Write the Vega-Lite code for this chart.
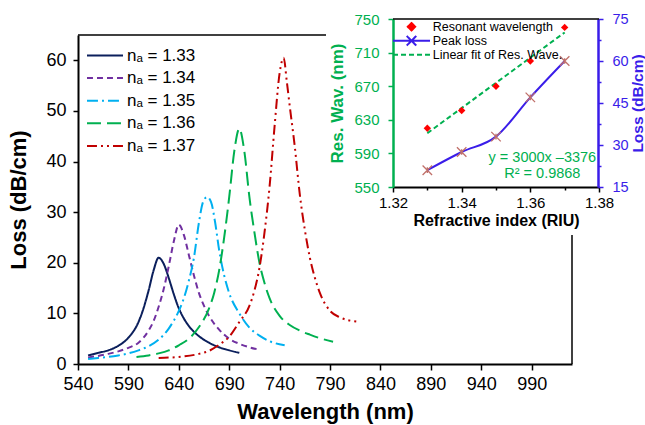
{
"$schema": "https://vega.github.io/schema/vega-lite/v6.json",
"width": 494, "height": 329,
"autosize": {"type": "none"},
"padding": {"left": 78, "top": 35, "right": 73, "bottom": 61},
"config": {
  "font": "Liberation Sans",
  "view": {"stroke": null},
  "axis": {"grid": false, "labelFont": "Liberation Sans", "titleFont": "Liberation Sans", "domainColor": "#000000", "tickColor": "#000000", "labelColor": "#000000", "titleColor": "#000000", "labelFlush": false, "labelOverlap": false, "labelBound": false},
  "legend": {"labelFont": "Liberation Sans", "labelColor": "#000000"}
},
"datasets": {
  "curves": [
    {"na": "nₐ = 1.33", "w": 550, "l": 1.7}, {"na": "nₐ = 1.33", "w": 560, "l": 2.2}, {"na": "nₐ = 1.33", "w": 570, "l": 2.7}, {"na": "nₐ = 1.33", "w": 580, "l": 3.6}, {"na": "nₐ = 1.33", "w": 590, "l": 5.2}, {"na": "nₐ = 1.33", "w": 600, "l": 8.3}, {"na": "nₐ = 1.33", "w": 605, "l": 11}, {"na": "nₐ = 1.33", "w": 610, "l": 14.5}, {"na": "nₐ = 1.33", "w": 615, "l": 18.5}, {"na": "nₐ = 1.33", "w": 620, "l": 21}, {"na": "nₐ = 1.33", "w": 625, "l": 19.8}, {"na": "nₐ = 1.33", "w": 630, "l": 17}, {"na": "nₐ = 1.33", "w": 635, "l": 13.8}, {"na": "nₐ = 1.33", "w": 640, "l": 11}, {"na": "nₐ = 1.33", "w": 645, "l": 9}, {"na": "nₐ = 1.33", "w": 650, "l": 7.5}, {"na": "nₐ = 1.33", "w": 660, "l": 5.5}, {"na": "nₐ = 1.33", "w": 670, "l": 4.2}, {"na": "nₐ = 1.33", "w": 680, "l": 3.3}, {"na": "nₐ = 1.33", "w": 690, "l": 2.7}, {"na": "nₐ = 1.33", "w": 700, "l": 2.2},
    {"na": "nₐ = 1.34", "w": 550, "l": 1.3}, {"na": "nₐ = 1.34", "w": 560, "l": 1.6}, {"na": "nₐ = 1.34", "w": 570, "l": 2.0}, {"na": "nₐ = 1.34", "w": 580, "l": 2.5}, {"na": "nₐ = 1.34", "w": 590, "l": 3.2}, {"na": "nₐ = 1.34", "w": 600, "l": 4.2}, {"na": "nₐ = 1.34", "w": 610, "l": 6.6}, {"na": "nₐ = 1.34", "w": 615, "l": 8.5}, {"na": "nₐ = 1.34", "w": 620, "l": 11.3}, {"na": "nₐ = 1.34", "w": 625, "l": 14.8}, {"na": "nₐ = 1.34", "w": 630, "l": 19.3}, {"na": "nₐ = 1.34", "w": 635, "l": 24.2}, {"na": "nₐ = 1.34", "w": 640, "l": 27.5}, {"na": "nₐ = 1.34", "w": 645, "l": 25.5}, {"na": "nₐ = 1.34", "w": 650, "l": 21.5}, {"na": "nₐ = 1.34", "w": 655, "l": 17.5}, {"na": "nₐ = 1.34", "w": 660, "l": 14}, {"na": "nₐ = 1.34", "w": 665, "l": 11.5}, {"na": "nₐ = 1.34", "w": 670, "l": 9.5}, {"na": "nₐ = 1.34", "w": 680, "l": 6.8}, {"na": "nₐ = 1.34", "w": 690, "l": 5.0}, {"na": "nₐ = 1.34", "w": 700, "l": 4.0}, {"na": "nₐ = 1.34", "w": 710, "l": 3.3}, {"na": "nₐ = 1.34", "w": 718, "l": 2.9},
    {"na": "nₐ = 1.35", "w": 550, "l": 1.0}, {"na": "nₐ = 1.35", "w": 560, "l": 1.2}, {"na": "nₐ = 1.35", "w": 570, "l": 1.4}, {"na": "nₐ = 1.35", "w": 580, "l": 1.7}, {"na": "nₐ = 1.35", "w": 590, "l": 2.1}, {"na": "nₐ = 1.35", "w": 600, "l": 2.7}, {"na": "nₐ = 1.35", "w": 610, "l": 3.5}, {"na": "nₐ = 1.35", "w": 620, "l": 4.8}, {"na": "nₐ = 1.35", "w": 630, "l": 7}, {"na": "nₐ = 1.35", "w": 640, "l": 10.5}, {"na": "nₐ = 1.35", "w": 645, "l": 13}, {"na": "nₐ = 1.35", "w": 650, "l": 16.5}, {"na": "nₐ = 1.35", "w": 655, "l": 21}, {"na": "nₐ = 1.35", "w": 660, "l": 28}, {"na": "nₐ = 1.35", "w": 664, "l": 32}, {"na": "nₐ = 1.35", "w": 668, "l": 33}, {"na": "nₐ = 1.35", "w": 672, "l": 32}, {"na": "nₐ = 1.35", "w": 676, "l": 28}, {"na": "nₐ = 1.35", "w": 680, "l": 22.5}, {"na": "nₐ = 1.35", "w": 685, "l": 17.5}, {"na": "nₐ = 1.35", "w": 690, "l": 14}, {"na": "nₐ = 1.35", "w": 700, "l": 10}, {"na": "nₐ = 1.35", "w": 710, "l": 7.2}, {"na": "nₐ = 1.35", "w": 720, "l": 5.6}, {"na": "nₐ = 1.35", "w": 730, "l": 4.5}, {"na": "nₐ = 1.35", "w": 745, "l": 3.7},
    {"na": "nₐ = 1.36", "w": 598, "l": 1.4}, {"na": "nₐ = 1.36", "w": 610, "l": 1.7}, {"na": "nₐ = 1.36", "w": 620, "l": 2.1}, {"na": "nₐ = 1.36", "w": 630, "l": 2.7}, {"na": "nₐ = 1.36", "w": 640, "l": 3.7}, {"na": "nₐ = 1.36", "w": 650, "l": 5.0}, {"na": "nₐ = 1.36", "w": 660, "l": 7.3}, {"na": "nₐ = 1.36", "w": 670, "l": 11}, {"na": "nₐ = 1.36", "w": 675, "l": 14}, {"na": "nₐ = 1.36", "w": 680, "l": 18.5}, {"na": "nₐ = 1.36", "w": 685, "l": 25}, {"na": "nₐ = 1.36", "w": 690, "l": 33}, {"na": "nₐ = 1.36", "w": 695, "l": 42}, {"na": "nₐ = 1.36", "w": 700, "l": 46.5}, {"na": "nₐ = 1.36", "w": 705, "l": 42}, {"na": "nₐ = 1.36", "w": 710, "l": 33}, {"na": "nₐ = 1.36", "w": 715, "l": 26}, {"na": "nₐ = 1.36", "w": 720, "l": 20}, {"na": "nₐ = 1.36", "w": 725, "l": 16}, {"na": "nₐ = 1.36", "w": 730, "l": 13}, {"na": "nₐ = 1.36", "w": 740, "l": 9.5}, {"na": "nₐ = 1.36", "w": 750, "l": 7.7}, {"na": "nₐ = 1.36", "w": 760, "l": 6.6}, {"na": "nₐ = 1.36", "w": 770, "l": 5.8}, {"na": "nₐ = 1.36", "w": 780, "l": 5.1}, {"na": "nₐ = 1.36", "w": 793, "l": 4.4},
    {"na": "nₐ = 1.37", "w": 620, "l": 1.2}, {"na": "nₐ = 1.37", "w": 640, "l": 1.4}, {"na": "nₐ = 1.37", "w": 660, "l": 2.0}, {"na": "nₐ = 1.37", "w": 670, "l": 2.6}, {"na": "nₐ = 1.37", "w": 680, "l": 3.8}, {"na": "nₐ = 1.37", "w": 690, "l": 5.4}, {"na": "nₐ = 1.37", "w": 700, "l": 8.3}, {"na": "nₐ = 1.37", "w": 710, "l": 11.5}, {"na": "nₐ = 1.37", "w": 715, "l": 14.5}, {"na": "nₐ = 1.37", "w": 720, "l": 19}, {"na": "nₐ = 1.37", "w": 725, "l": 26}, {"na": "nₐ = 1.37", "w": 730, "l": 35}, {"na": "nₐ = 1.37", "w": 735, "l": 47}, {"na": "nₐ = 1.37", "w": 740, "l": 57.5}, {"na": "nₐ = 1.37", "w": 744, "l": 60.5}, {"na": "nₐ = 1.37", "w": 747, "l": 56}, {"na": "nₐ = 1.37", "w": 750, "l": 51}, {"na": "nₐ = 1.37", "w": 755, "l": 43}, {"na": "nₐ = 1.37", "w": 760, "l": 33.5}, {"na": "nₐ = 1.37", "w": 765, "l": 26.5}, {"na": "nₐ = 1.37", "w": 770, "l": 21}, {"na": "nₐ = 1.37", "w": 775, "l": 17}, {"na": "nₐ = 1.37", "w": 780, "l": 14}, {"na": "nₐ = 1.37", "w": 790, "l": 10.5}, {"na": "nₐ = 1.37", "w": 800, "l": 9.2}, {"na": "nₐ = 1.37", "w": 816, "l": 8.4}
  ],
  "inset": [
    {"n": 1.33, "wav": 620, "loss": 21},
    {"n": 1.34, "wav": 641, "loss": 27.5},
    {"n": 1.35, "wav": 670, "loss": 33},
    {"n": 1.36, "wav": 700, "loss": 47},
    {"n": 1.37, "wav": 740, "loss": 60}
  ],
  "fit": [
    {"n": 1.33, "wav": 614},
    {"n": 1.37, "wav": 734}
  ]
},
"layer": [
  {
    "layer": [
      {
        "data": {"name": "curves"},
        "mark": {"type": "line", "strokeWidth": 2, "interpolate": "monotone"},
        "encoding": {
          "x": {"field": "w", "type": "quantitative", "scale": {"domain": [540, 1030], "nice": false, "zero": false},
            "axis": {"title": "Wavelength (nm)", "values": [540,565,590,615,640,665,690,715,740,765,790,815,840,865,890,915,940,965,990,1015], "format": "d",
              "labelExpr": "(datum.value - 540) % 50 === 0 ? datum.label : ''",
              "labelFontSize": 18, "titleFontSize": 22, "titleFontWeight": "bold", "domainWidth": 2, "tickWidth": 1.5,
              "tickSize": {"condition": {"test": "(datum.value - 540) % 50 === 0", "value": 6}, "value": 4},
              "labelPadding": 5, "titlePadding": 8}},
          "y": {"field": "l", "type": "quantitative", "scale": {"domain": [0, 65], "nice": false},
            "axis": {"title": "Loss (dB/cm)", "values": [0,5,10,15,20,25,30,35,40,45,50,55,60,65],
              "labelExpr": "datum.value % 10 === 0 ? datum.label : ''",
              "labelFontSize": 18, "titleFontSize": 22, "titleFontWeight": "bold", "domainWidth": 2, "tickWidth": 1.5,
              "tickSize": {"condition": {"test": "datum.value % 10 === 0", "value": 5}, "value": 3},
              "labelPadding": 7, "titlePadding": 15}},
          "color": {"field": "na", "type": "nominal",
            "scale": {"domain": ["nₐ = 1.33", "nₐ = 1.34", "nₐ = 1.35", "nₐ = 1.36", "nₐ = 1.37"], "range": ["#0b1f5c", "#7030a0", "#00b0f0", "#00b050", "#c00000"]},
            "legend": {"orient": "none", "legendX": 7.5, "legendY": 11.5, "title": null, "labelFontSize": 17, "symbolType": "stroke", "symbolSize": 1300, "symbolStrokeWidth": 2, "clipHeight": 18, "rowPadding": 4.6, "labelOffset": 2.5, "padding": 0}},
          "strokeDash": {"field": "na", "type": "nominal",
            "scale": {"domain": ["nₐ = 1.33", "nₐ = 1.34", "nₐ = 1.35", "nₐ = 1.36", "nₐ = 1.37"], "range": [[1, 0], [6, 4], [11, 4, 2, 4], [14, 6], [10, 4, 2, 4, 2, 4]]},
            "legend": {"orient": "none", "legendX": 7.5, "legendY": 11.5, "title": null, "labelFontSize": 17, "symbolType": "stroke", "symbolSize": 1300, "symbolStrokeWidth": 2, "clipHeight": 18, "rowPadding": 4.6, "labelOffset": 2.5, "padding": 0}}
        }
      },
      {
        "data": {"values": [{}]},
        "mark": {"type": "rule", "color": "#000000", "strokeWidth": 1.5},
        "encoding": {"x": {"datum": 540, "type": "quantitative"}, "x2": {"datum": 786}, "y": {"datum": 65, "type": "quantitative"}}
      },
      {
        "data": {"values": [{}]},
        "mark": {"type": "rule", "color": "#000000", "strokeWidth": 1.5},
        "encoding": {"x": {"datum": 1030, "type": "quantitative"}, "y": {"datum": 0, "type": "quantitative"}, "y2": {"datum": 25.5}}
      }
    ]
  },
  {
    "layer": [
      {
        "layer": [
          {
            "data": {"name": "fit"},
            "mark": {"type": "line", "strokeWidth": 2, "strokeDash": [5, 3]},
            "encoding": {
              "x": {"field": "n", "type": "quantitative", "scale": {"domain": [1.32, 1.38], "range": [315, 521], "nice": false, "zero": false},
                "axis": {"title": "Refractive index (RIU)", "orient": "bottom", "offset": -177, "values": [1.32, 1.33, 1.34, 1.35, 1.36, 1.37, 1.38], "format": ".2f",
                  "labelExpr": "round(datum.value * 100) % 2 === 0 ? datum.label : ''",
                  "labelFontSize": 15, "titleFontSize": 16, "titleFontWeight": "bold", "domainWidth": 2, "tickWidth": 1.5,
                  "tickSize": {"condition": {"test": "round(datum.value * 100) % 2 === 0", "value": 5}, "value": 3},
                  "labelPadding": 3, "titlePadding": 2}},
              "y": {"field": "wav", "type": "quantitative", "scale": {"domain": [550, 750], "range": [152, -16], "nice": false, "zero": false},
                "axis": {"title": "Res. Wav. (nm)", "orient": "left", "offset": -315, "values": [550,570,590,610,630,650,670,690,710,730,750],
                  "labelExpr": "(datum.value - 550) % 40 === 0 ? datum.label : ''",
                  "domainColor": "#00b050", "tickColor": "#00b050", "labelColor": "#00b050", "titleColor": "#00b050",
                  "labelFontSize": 15, "titleFontSize": 17, "titleFontWeight": "bold", "domainWidth": 2.5, "tickWidth": 1.5,
                  "tickSize": {"condition": {"test": "(datum.value - 550) % 40 === 0", "value": 5}, "value": 3},
                  "labelPadding": 9, "titlePadding": 7}},
              "color": {"datum": "Linear fit of Res. Wave.", "type": "nominal",
                "scale": {"domain": ["Resonant wavelength", "Peak loss", "Linear fit of Res. Wave."], "range": ["#ff0000", "#3a1de9", "#00b050"]},
                "legend": {"orient": "none", "legendX": 314, "legendY": -14.6, "title": null, "labelFontSize": 12.5, "symbolType": "stroke", "symbolSize": 1369, "symbolStrokeWidth": 2, "clipHeight": 12.7, "rowPadding": 1, "labelOffset": 1.7, "padding": 0,
                  "encode": {"symbols": {"update": {
                    "shape": {"signal": "datum.value === 'Resonant wavelength' ? 'diamond' : datum.value === 'Peak loss' ? 'M-1,0L1,0M-0.26,-0.26L0.26,0.26M-0.26,0.26L0.26,-0.26' : 'stroke'"},
                    "size": {"signal": "datum.value === 'Resonant wavelength' ? 55 : 1369"},
                    "fill": {"signal": "datum.value === 'Resonant wavelength' ? '#ff0000' : 'transparent'"},
                    "stroke": {"signal": "datum.value === 'Resonant wavelength' ? 'transparent' : datum.value === 'Peak loss' ? '#3a1de9' : '#00b050'"},
                    "strokeDash": {"signal": "datum.value === 'Linear fit of Res. Wave.' ? [5, 3] : [1, 0]"},
                    "strokeWidth": {"value": 2},
                    "opacity": {"value": 1}
                  }}}}}
            }
          },
          {
            "data": {"name": "inset"},
            "mark": {"type": "point", "shape": "diamond", "filled": true, "size": 55, "opacity": 1},
            "encoding": {
              "x": {"field": "n", "type": "quantitative"},
              "y": {"field": "wav", "type": "quantitative"},
              "color": {"datum": "Resonant wavelength", "type": "nominal"}
            }
          },
          {
            "data": {"values": [{}]},
            "mark": {"type": "rule", "color": "#000000", "strokeWidth": 1.5},
            "encoding": {"x": {"datum": 1.32, "type": "quantitative"}, "x2": {"datum": 1.38}, "y": {"datum": 750, "type": "quantitative"}}
          },
          {
            "data": {"values": [{}]},
            "mark": {"type": "text", "color": "#00b050", "fontSize": 14.5, "align": "center", "baseline": "middle"},
            "encoding": {"x": {"datum": 1.3635, "type": "quantitative"}, "y": {"datum": 584.5, "type": "quantitative"}, "text": {"value": "y = 3000x –3376"}}
          },
          {
            "data": {"values": [{}]},
            "mark": {"type": "text", "color": "#00b050", "fontSize": 14.5, "align": "center", "baseline": "middle"},
            "encoding": {"x": {"datum": 1.3635, "type": "quantitative"}, "y": {"datum": 566, "type": "quantitative"}, "text": {"value": "R² = 0.9868"}}
          }
        ]
      },
      {
        "layer": [
          {
            "data": {"name": "inset"},
            "mark": {"type": "line", "strokeWidth": 2, "interpolate": "monotone"},
            "encoding": {
              "x": {"field": "n", "type": "quantitative"},
              "y": {"field": "loss", "type": "quantitative", "scale": {"domain": [15, 75], "range": [152, -16], "nice": false, "zero": false},
                "axis": {"title": "Loss (dB/cm)", "orient": "right", "offset": 26, "values": [15, 22.5, 30, 37.5, 45, 52.5, 60, 67.5, 75],
                  "labelExpr": "(datum.value - 15) % 15 === 0 ? datum.label : ''",
                  "domainColor": "#3a1de9", "tickColor": "#3a1de9", "labelColor": "#3a1de9", "titleColor": "#3a1de9",
                  "labelFontSize": 14.5, "titleFontSize": 15.5, "titleFontWeight": "bold", "titleAngle": 270, "domainWidth": 2.5, "tickWidth": 1.5,
                  "tickSize": {"condition": {"test": "(datum.value - 15) % 15 === 0", "value": 5}, "value": 3},
                  "labelPadding": 9, "titlePadding": 17}},
              "color": {"datum": "Peak loss", "type": "nominal"}
            }
          },
          {
            "data": {"name": "inset"},
            "mark": {"type": "point", "shape": "M-1,-1L1,1M-1,1L1,-1M0,-0.6L0,0.6", "filled": false, "size": 90, "stroke": "#c0706a", "strokeWidth": 1.3, "opacity": 1},
            "encoding": {
              "x": {"field": "n", "type": "quantitative"},
              "y": {"field": "loss", "type": "quantitative"}
            }
          }
        ]
      }
    ],
    "resolve": {"scale": {"y": "independent"}}
  }
],
"resolve": {"scale": {"x": "independent", "y": "independent", "color": "independent", "strokeDash": "independent"}}
}
